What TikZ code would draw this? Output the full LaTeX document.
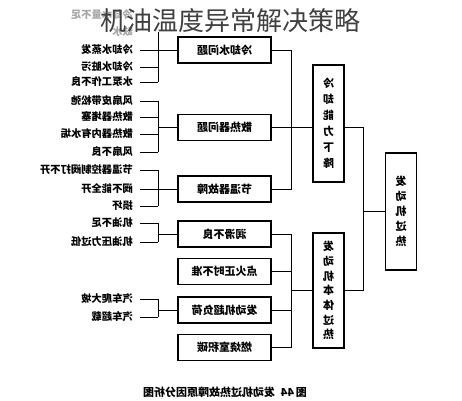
\documentclass[tikz,border=0pt]{standalone}
\usepackage{fontspec}
\usepackage{graphicx}
\newfontfamily\cjk{Noto Sans CJK SC}
\newcommand\rf[1]{\reflectbox{#1}}
\tikzset{
  lab/.style={anchor=east, inner sep=0pt, font=\cjk\bfseries\fontsize{10.3}{12}\selectfont},
  faded/.style={lab, text=black!35},
  hbox/.style={draw, line width=1.3pt, minimum width=93pt, minimum height=26pt, inner sep=0pt, font=\cjk\bfseries\fontsize{11}{12}\selectfont},
  vbox/.style={draw, line width=1.3pt, minimum width=31pt, inner sep=0pt, align=center},
  conn/.style={line width=0.9pt},
}
\begin{document}
\begin{tikzpicture}[x=1pt,y=-1pt]
\useasboundingbox (0,0) rectangle (462,400);
\coordinate (bx) at (158,0);
\coordinate (rx) at (291,0);
\coordinate (rx2) at (363,0);
% boxes
\node[hbox] (b1) at (224.5,50) {\rf{冷却水问题}};
\node[hbox] (b2) at (224.5,127.5) {\rf{散热器问题}};
\node[hbox] (b3) at (224.5,189) {\rf{节温器故障}};
\node[hbox] (b4) at (224.5,234) {\rf{润滑不良}};
\node[hbox] (b5) at (224.5,271.5) {\rf{点火正时不准}};
\node[hbox] (b6) at (224.5,310) {\rf{发动机超负荷}};
\node[hbox] (b7) at (224.5,347.5) {\rf{燃烧室积碳}};
\node[vbox, minimum height=117pt, font=\cjk\bfseries\fontsize{11}{16}\selectfont] (v1) at (328.5,123.5)
  {\rf{冷}\\\rf{却}\\\rf{能}\\\rf{力}\\\rf{下}\\\rf{降}};
\node[vbox, minimum height=115pt, font=\cjk\bfseries\fontsize{11}{14.7}\selectfont] (v2) at (328.5,290.5)
  {\rf{发}\\\rf{动}\\\rf{机}\\\rf{本}\\\rf{体}\\\rf{过}\\\rf{热}};
\node[vbox, minimum height=117pt, font=\cjk\bfseries\fontsize{11}{15}\selectfont] (v3) at (401,211.5)
  {\rf{发}\\\rf{动}\\\rf{机}\\\rf{过}\\\rf{热}};
% left labels
\node[faded] (l1) at (133,15) {\rf{冷却水量不足}};
\node[faded] (l2) at (133,32) {\rf{缺水}};
\node[lab] (l3) at (133,50) {\rf{冷却水蒸发}};
\node[lab] (l4) at (133,67) {\rf{冷却水脏污}};
\node[lab] (l5) at (133,82) {\rf{水泵工作不良}};
\node[lab] (m1) at (133,101) {\rf{风扇皮带松弛}};
\node[lab] (m2) at (133,117) {\rf{散热器堵塞}};
\node[lab] (m3) at (133,134) {\rf{散热器内有水垢}};
\node[lab] (m4) at (133,152) {\rf{风扇不良}};
\node[lab] (n1) at (133,170) {\rf{节温器控制阀打不开}};
\node[lab] (n2) at (133,189) {\rf{阀不能全开}};
\node[lab] (n3) at (133,206) {\rf{损坏}};
\node[lab] (p1) at (133,223) {\rf{机油不足}};
\node[lab] (p2) at (133,242) {\rf{机油压力过低}};
\node[lab] (q1) at (133,299) {\rf{汽车爬大坡}};
\node[lab] (q2) at (133,317) {\rf{汽车超载}};
% left brackets
\draw[conn] (l2 -| bx) -- (l5 -| bx);
\draw[conn] ([xshift=7pt]l3.east) -- (b1.west);
\draw[conn] ([xshift=7pt]l4.east) -- (l4 -| bx);
\draw[conn] ([xshift=7pt]l5.east) -- (l5 -| bx);
\draw[conn] ([xshift=7pt]m1.east) -- (m1 -| bx) -- (m4 -| bx);
\draw[conn] ([xshift=7pt]m2.east) -- (m2 -| bx);
\draw[conn] ([xshift=7pt]m3.east) -- (m3 -| bx);
\draw[conn] ([xshift=7pt]m4.east) -- (m4 -| bx);
\draw[conn] (b2.west -| bx) -- (b2.west);
\draw[conn] ([xshift=7pt]n1.east) -- (n1 -| bx) -- (n3 -| bx);
\draw[conn] ([xshift=7pt]n2.east) -- (b3.west);
\draw[conn] ([xshift=7pt]n3.east) -- (n3 -| bx);
\draw[conn] ([xshift=7pt]p1.east) -- (p1 -| bx) -- (p2 -| bx);
\draw[conn] ([xshift=7pt]p2.east) -- (p2 -| bx);
\draw[conn] (b4.west -| bx) -- (b4.west);
\draw[conn] ([xshift=7pt]q1.east) -- (q1 -| bx) -- (q2 -| bx);
\draw[conn] ([xshift=7pt]q2.east) -- (q2 -| bx);
\draw[conn] (b6.west -| bx) -- (b6.west);
% right connectors
\draw[conn] (b1.east) -- (b1.east -| rx) -- (b3.east -| rx) -- (b3.east);
\draw[conn] (b2.east) -- (b2.east -| v1.west);
\draw[conn] (b4.east) -- (b4.east -| rx) -- (b7.east -| rx) -- (b7.east);
\draw[conn] (b5.east) -- (b5.east -| rx);
\draw[conn] (b6.east) -- (b6.east -| rx);
\draw[conn] (v2.west -| rx) -- (v2.west);
\draw[conn] (b2.east -| v1.east) -- (b2.east -| rx2) -- (v2.east -| rx2) -- (v2.east);
\draw[conn] (v3.west -| rx2) -- (v3.west);
% title and caption
\node[font=\cjk\fontsize{26}{28}\selectfont, text=black!75, inner sep=0pt] (title) at (230,21) {机油温度异常解决策略};
\node[font=\cjk\bfseries\fontsize{11}{12}\selectfont, inner sep=0pt] (cap) at (225,392) {\rf{图\,44\enspace 发动机过热故障原因分析图}};
\end{tikzpicture}
\end{document}
